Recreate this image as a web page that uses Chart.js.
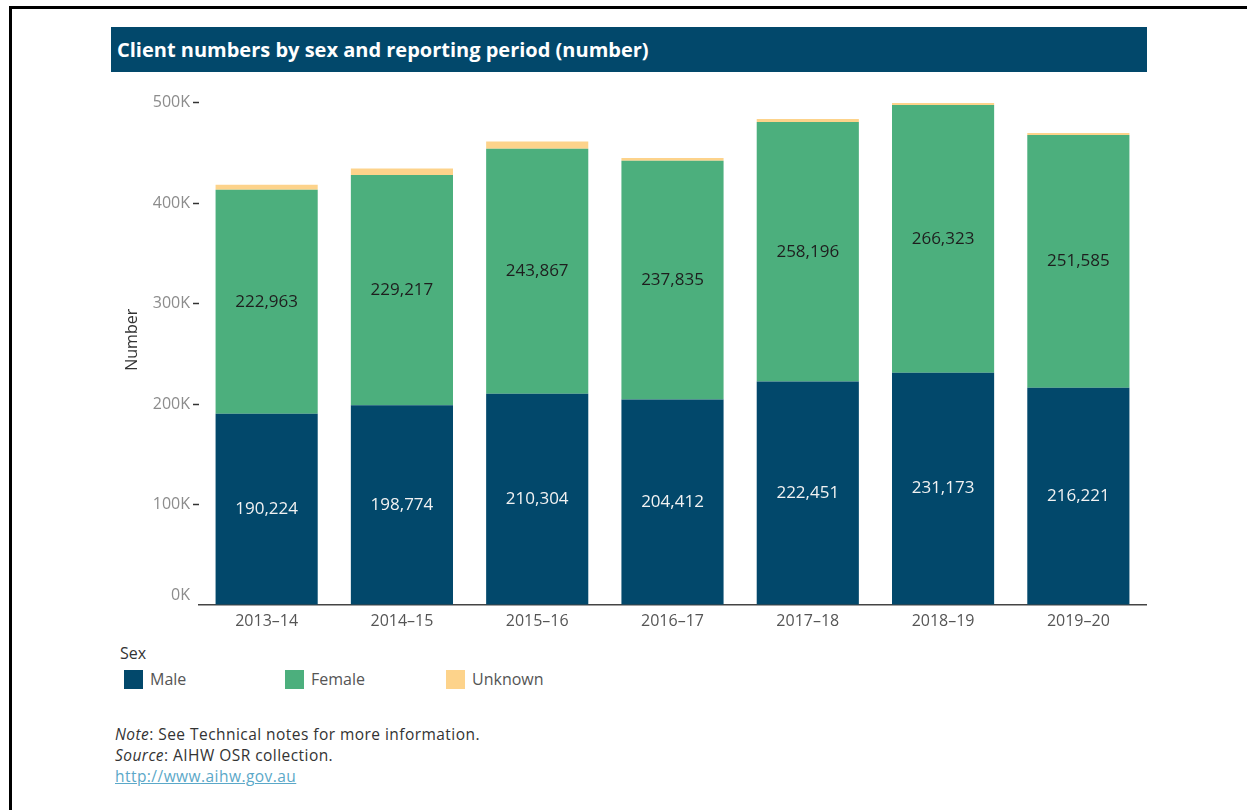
<!DOCTYPE html>
<html>
<head>
<meta charset="utf-8">
<title>Client numbers by sex and reporting period</title>
<script src="https://cdn.jsdelivr.net/npm/chart.js@4"></script>
<style>
    body { margin:0; background:#fff; font-family:"Open Sans", sans-serif; }
    .frame { position:absolute; left:9px; top:6px; width:1238px; height:804px; border-left:3px solid #000; border-top:3px solid #000; }
    .title_bar { position:absolute; left:111px; top:27px; width:1036px; height:45px; background:#02486b; color:#fff;
        font-weight:bold; font-size:20px; line-height:45px; padding-left:6px; box-sizing:border-box; }
    .chart_box { position:absolute; left:100px; top:90px; width:1060px; height:551px; }
    .legend_title { position:absolute; left:120px; top:642px; font-size:16px; color:#333; }
    .legend { position:absolute; left:124px; top:668px; }
    .legend_item { position:absolute; top:0; white-space:nowrap; font-size:16px; color:#555; line-height:22px; }
    .legend_item span { display:inline-block; width:19px; height:19px; vertical-align:-4px; margin-right:7px; }
    .notes { position:absolute; left:115px; top:724px; font-size:15.5px; letter-spacing:0.45px; color:#333; line-height:21px; }
    .notes a { color:#5ba8c8; }
</style>
</head>
<body>
<div class="frame"></div>
<div class="title_bar">Client numbers by sex and reporting period (number)</div>
<div class="chart_box"><canvas id="sex_chart"></canvas></div>
<div class="legend_title">Sex</div>
<div class="legend"></div>
<div class="notes">
    <i>Note</i>: See Technical notes for more information.<br>
    <i>Source</i>: AIHW OSR collection.<br>
    <a href="http://www.aihw.gov.au">http://www.aihw.gov.au</a>
</div>
<script>
const periods = ["2013–14", "2014–15", "2015–16", "2016–17", "2017–18", "2018–19", "2019–20"];
const male = [190224, 198774, 210304, 204412, 222451, 231173, 216221];
const female = [222963, 229217, 243867, 237835, 258196, 266323, 251585];
const unknown = [5100, 6300, 7000, 2600, 3000, 2000, 1900];
const seriesNames = ["Male", "Female", "Unknown"];
const seriesColors = ["#02486b", "#4caf7d", "#fdd38b"];
const labelColors = ["#f2f2f2", "#1e1e1e", null];
const yTicks = [0, 100000, 200000, 300000, 400000, 500000];
const yTitle = "Number";

const fontFamily = "'Open Sans', sans-serif";

// values in the middle of each male / female segment, plus the axis title and the 0K label
const extraText = {
    id: "extraText",
    afterDatasetsDraw(chart) {
        const ctx = chart.ctx;
        ctx.save();
        ctx.font = "17px " + fontFamily;
        ctx.textAlign = "center";
        ctx.textBaseline = "middle";
        chart.data.datasets.forEach((ds, i) => {
            if (!labelColors[i]) return;
            ctx.fillStyle = labelColors[i];
            chart.getDatasetMeta(i).data.forEach((bar, j) => {
                const mid = (bar.y + bar.base) / 2;
                ctx.fillText(ds.data[j].toLocaleString("en-US"), bar.x, mid);
            });
        });

        const y = chart.scales.y;
        ctx.fillStyle = "#8c8c8c";
        ctx.font = "16px " + fontFamily;
        ctx.textAlign = "right";
        ctx.fillText("0K", y.right - 9, y.getPixelForValue(0) - 10);

        ctx.translate(32, y.top + y.height / 2 - 14);
        ctx.rotate(-Math.PI / 2);
        ctx.textAlign = "center";
        ctx.fillStyle = "#333";
        ctx.fillText(yTitle, 0, 0);
        ctx.restore();
    }
};

// legend built from the series
seriesNames.forEach((name, i) => {
    let item = document.createElement("div");
    item.className = "legend_item";
    item.style.left = (i * 161) + "px";
    item.innerHTML = '<span style="background:' + seriesColors[i] + '"></span>' + name;
    document.querySelector(".legend").appendChild(item);
});

const series = [male, female, unknown];
new Chart(document.getElementById("sex_chart"), {
    type: "bar",
    data: {
        labels: periods,
        datasets: series.map((d, i) => ({
            label: seriesNames[i],
            data: d,
            backgroundColor: seriesColors[i],
            borderWidth: 0,
            categoryPercentage: 1,
            barPercentage: 0.755
        }))
    },
    options: {
        responsive: true,
        maintainAspectRatio: false,
        animation: false,
        layout: { padding: { left: 20, top: 10, right: 14, bottom: 0 } },
        plugins: { legend: { display: false }, tooltip: { enabled: false } },
        scales: {
            x: {
                stacked: true,
                grid: { display: false, drawTicks: false },
                border: { color: "#444", width: 1.5 },
                ticks: { color: "#555", font: { family: fontFamily, size: 16 }, padding: 7 },
                afterFit(scale) { scale.height = 36; }
            },
            y: {
                stacked: true,
                min: 0,
                max: 500000,
                afterBuildTicks(scale) { scale.ticks = yTicks.map(v => ({ value: v })); },
                grid: {
                    drawOnChartArea: false,
                    tickLength: 6,
                    tickWidth: 1.5,
                    tickColor: c => c.tick && c.tick.value === 0 ? "rgba(0,0,0,0)" : "#333"
                },
                border: { display: false },
                ticks: {
                    color: "#8c8c8c",
                    font: { family: fontFamily, size: 16 },
                    padding: 3,
                    callback: v => v === 0 ? "" : (v / 1000) + "K"
                },
                afterFit(scale) { scale.width = 79; }
            }
        }
    },
    plugins: [extraText]
});
</script>
</body>
</html>
